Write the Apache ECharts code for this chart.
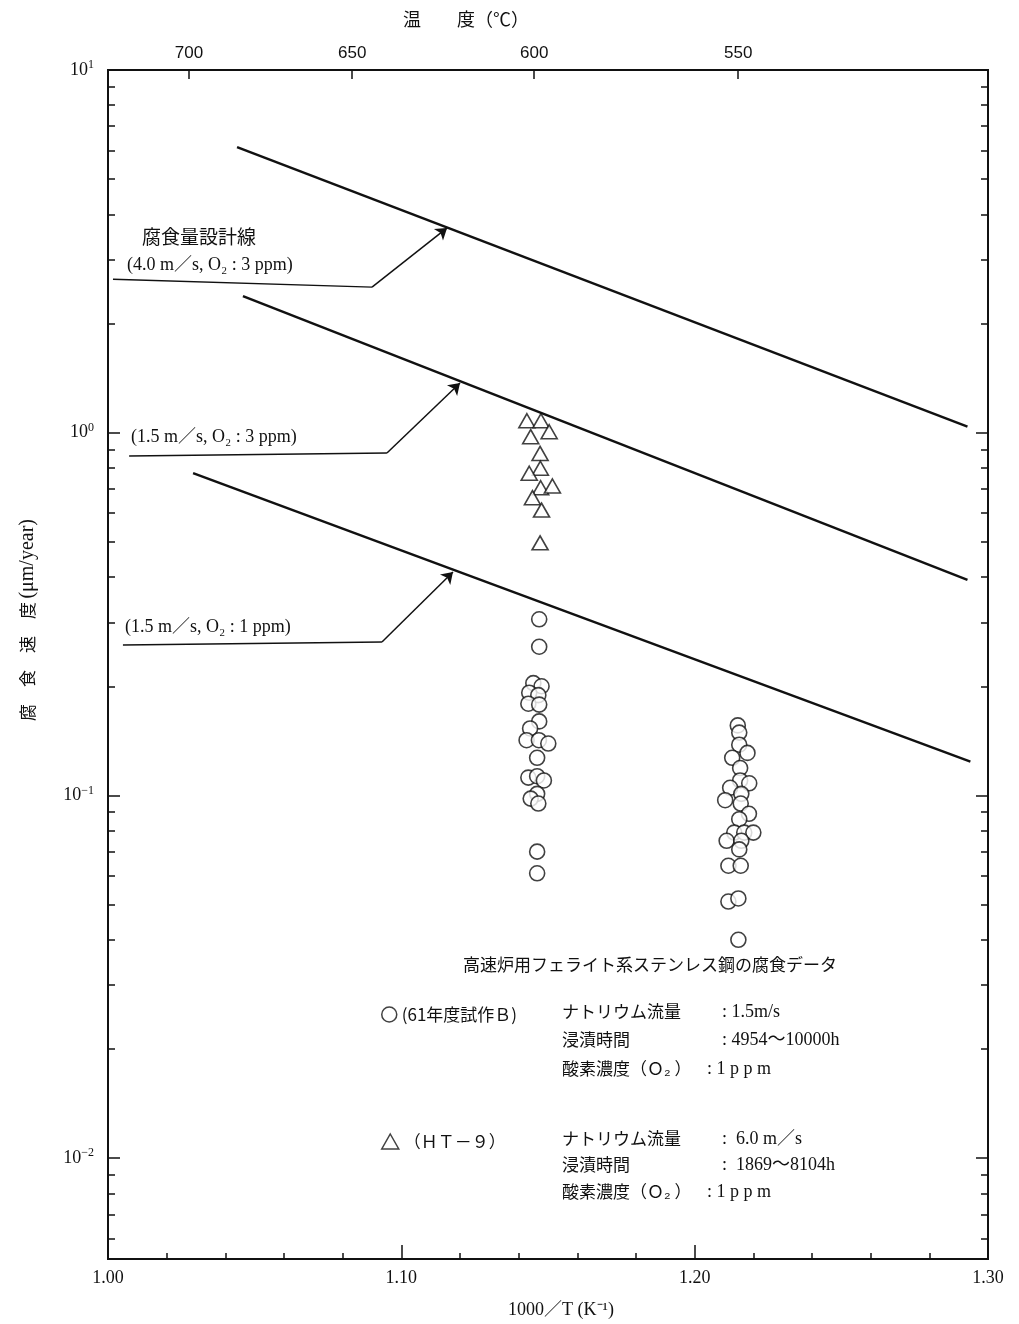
<!DOCTYPE html>
<html>
<head>
<meta charset="utf-8">
<title>高速炉用フェライト系ステンレス鋼の腐食データ</title>
<script src="https://cdn.jsdelivr.net/npm/echarts@6/dist/echarts.min.js"></script>
<style>
  html, body { margin: 0; padding: 0; background: #fff; }
  #chart { width: 1019px; height: 1324px; }
</style>
</head>
<body>
<div id="chart"></div>
<script>
// x: 1000/T (K^-1), y: 腐食速度 (μm/year)
// △ HT-9
var ht9 = [
  [1.1428, 1.079], [1.1476, 1.079], [1.1504, 1.006], [1.1441, 0.975],
  [1.1473, 0.877], [1.1474, 0.798], [1.1436, 0.773], [1.1475, 0.705],
  [1.1515, 0.713], [1.1447, 0.662], [1.1478, 0.612], [1.1473, 0.497]
];
// ○ 61年度試作B  (600℃付近)
var b61a = [
  [1.1470, 0.306], [1.1470, 0.257], [1.1450, 0.204], [1.1478, 0.200],
  [1.1436, 0.192], [1.1467, 0.189], [1.1433, 0.179], [1.1470, 0.178],
  [1.1470, 0.160], [1.1439, 0.153], [1.1427, 0.142], [1.1469, 0.142],
  [1.1501, 0.139], [1.1463, 0.127], [1.1433, 0.112], [1.1463, 0.113],
  [1.1486, 0.110], [1.1463, 0.101], [1.1441, 0.098], [1.1467, 0.095],
  [1.1463, 0.070], [1.1463, 0.061]
];
// ○ 61年度試作B  (550℃付近)
var b61b = [
  [1.2147, 0.156], [1.2152, 0.149], [1.2152, 0.138], [1.2180, 0.131],
  [1.2128, 0.127], [1.2155, 0.119], [1.2155, 0.110], [1.2186, 0.108],
  [1.2121, 0.105], [1.2159, 0.101], [1.2104, 0.097], [1.2157, 0.095],
  [1.2185, 0.089], [1.2152, 0.086], [1.2135, 0.079], [1.2169, 0.079],
  [1.2200, 0.079], [1.2109, 0.075], [1.2159, 0.075], [1.2152, 0.071],
  [1.2115, 0.064], [1.2157, 0.064], [1.2115, 0.051], [1.2149, 0.052],
  [1.2149, 0.040]
];
// 腐食量設計線
var line40o3 = [[1.044, 6.13], [1.293, 1.04]];
var line15o3 = [[1.046, 2.38], [1.293, 0.393]];
var line15o1 = [[1.029, 0.774], [1.294, 0.124]];
// 引出し線 (start, bend, arrow tip)
var lead40o3 = [[1.0017, 2.65], [1.090, 2.52], [1.1156, 3.67]];
var lead15o3 = [[1.0072, 0.863], [1.0951, 0.879], [1.1200, 1.371]];
var lead15o1 = [[1.0051, 0.260], [1.0934, 0.265], [1.1176, 0.413]];

var tempTicks = [700, 650, 600, 550];      // ℃
var decades = [-2, -1, 0, 1];              // 10^n
var yMinLog = -2.278;

var serif = '"Liberation Serif", "Noto Sans CJK JP", serif';
var jp = '"Noto Sans CJK JP", sans-serif';

function lg(p) { return [p[0], Math.log10(p[1])]; }

var minorTicks = [];
decades.concat([-3]).forEach(function (d) {
  for (var k = 2; k <= 9; k++) {
    var v = d + Math.log10(k);
    if (v > yMinLog && v < 1) minorTicks.push(v);
  }
});
var tempPos = tempTicks.map(function (t) { return 1000 / (t + 273.15); });

function supLabel(v) {
  var e = v < 0 ? '−' + (-v) : String(v);
  return '{b|10}{s|' + e + '}';
}

function leader(pts) {
  var a = lg(pts[0]), b = lg(pts[1]), c = lg(pts[2]);
  return [
    [{ coord: a, symbol: 'none' }, { coord: b, symbol: 'none' }],
    [{ coord: b, symbol: 'none' }, { coord: c, symbol: 'arrow' }]
  ];
}

function designLine(data, lead) {
  return {
    type: 'line',
    data: data.map(lg),
    showSymbol: false,
    silent: true,
    lineStyle: { color: '#111', width: 2.5 },
    markLine: {
      silent: true,
      symbolSize: 11,
      label: { show: false },
      lineStyle: { color: '#111', width: 1.5, type: 'solid' },
      data: leader(lead)
    }
  };
}

var yBase = {
  type: 'value', min: yMinLog, max: 1,
  splitLine: { show: false },
  axisLine: { show: true, onZero: false, lineStyle: { color: '#111', width: 2 } }
};

var chart = echarts.init(document.getElementById('chart'));
chart.setOption({
  animation: false,
  backgroundColor: '#fff',
  grid: { left: 108, top: 70, width: 880, height: 1189 },
  xAxis: [
    {
      type: 'value', position: 'bottom', min: 1, max: 1.3, interval: 0.1,
      splitLine: { show: false },
      axisLine: { onZero: false, lineStyle: { color: '#111', width: 2 } },
      axisTick: { inside: true, length: 14, lineStyle: { color: '#111', width: 1.5 } },
      minorTick: { show: true, splitNumber: 5, length: 6, lineStyle: { color: '#111', width: 1.5 } },
      axisLabel: {
        margin: 10, color: '#111', fontFamily: serif, fontSize: 18,
        formatter: function (v) { return v.toFixed(2); }
      }
    },
    {
      type: 'value', position: 'top', min: 1, max: 1.3,
      splitLine: { show: false },
      axisLine: { onZero: false, lineStyle: { color: '#111', width: 2 } },
      axisTick: { inside: true, length: 9, customValues: tempPos, lineStyle: { color: '#111', width: 1.5 } },
      axisLabel: {
        customValues: tempPos, margin: 8, color: '#111',
        fontFamily: '"Liberation Sans", sans-serif', fontSize: 17,
        formatter: function (v) { return Math.round(1000 / v - 273.15); }
      }
    }
  ],
  yAxis: [
    Object.assign({}, yBase, {
      position: 'left',
      axisTick: { inside: true, length: 12, customValues: decades, lineStyle: { color: '#111', width: 1.5 } },
      axisLabel: {
        customValues: decades, margin: 14, color: '#111', formatter: supLabel,
        rich: {
          b: { fontFamily: serif, fontSize: 18, lineHeight: 22, color: '#111' },
          s: { fontFamily: serif, fontSize: 12, lineHeight: 12, verticalAlign: 'top', color: '#111' }
        }
      }
    }),
    Object.assign({}, yBase, {
      position: 'left',
      axisTick: { inside: true, length: 7, customValues: minorTicks, lineStyle: { color: '#111', width: 1.5 } },
      axisLabel: { show: false }
    }),
    Object.assign({}, yBase, {
      position: 'right',
      axisTick: { inside: true, length: 12, customValues: decades, lineStyle: { color: '#111', width: 1.5 } },
      axisLabel: { show: false }
    }),
    Object.assign({}, yBase, {
      position: 'right',
      axisTick: { inside: true, length: 7, customValues: minorTicks, lineStyle: { color: '#111', width: 1.5 } },
      axisLabel: { show: false }
    })
  ],
  legend: [
    {
      data: ['(61年度試作Ｂ)'], left: 376, top: 1001, selectedMode: false,
      itemWidth: 15, itemHeight: 15, itemGap: 6,
      itemStyle: { color: '#fff', borderColor: '#111', borderWidth: 1.5 },
      textStyle: { fontFamily: jp, fontSize: 17, color: '#111' }
    },
    {
      data: ['（ＨＴ－９）'], left: 376, top: 1128, selectedMode: false,
      itemWidth: 17, itemHeight: 15, itemGap: 6,
      itemStyle: { color: '#fff', borderColor: '#111', borderWidth: 1.5 },
      textStyle: { fontFamily: jp, fontSize: 17, color: '#111' }
    }
  ],
  series: [
    designLine(line40o3, lead40o3),
    designLine(line15o3, lead15o3),
    designLine(line15o1, lead15o1),
    {
      name: '（ＨＴ－９）', type: 'scatter', symbol: 'triangle', symbolSize: [16, 14],
      data: ht9.map(lg),
      itemStyle: { color: '#fff', borderColor: '#111', borderWidth: 1.6 }
    },
    {
      name: '(61年度試作Ｂ)', type: 'scatter', symbol: 'circle', symbolSize: 15,
      data: b61a.map(lg).concat(b61b.map(lg)),
      itemStyle: { color: '#fff', borderColor: '#111', borderWidth: 1.6 }
    }
  ],
  graphic: [
    { type: 'text', x: 403, y: 19, style: { text: '温　　度（℃）', font: '18px ' + jp, fill: '#111', verticalAlign: 'middle' } },
    { type: 'text', x: 561, y: 1310, style: { text: '1000／T (K⁻¹)', font: '18px ' + serif, fill: '#111', align: 'center', verticalAlign: 'middle' } },
    {
      type: 'text', x: 28, y: 620, rotation: Math.PI / 2,
      style: {
        text: '{c|腐　食　速　度} {s|(μm/year)}', align: 'center', verticalAlign: 'middle',
        rich: { c: { fontFamily: jp, fontSize: 17, fill: '#111' }, s: { fontFamily: serif, fontSize: 20, fill: '#111' } }
      }
    },
    { type: 'text', x: 142, y: 237, style: { text: '腐食量設計線', font: '19px ' + jp, fill: '#111', verticalAlign: 'middle' } },
    { type: 'text', x: 127, y: 265, style: { text: '(4.0 m／s, O₂ : 3 ppm)', font: '18px ' + serif, fill: '#111', verticalAlign: 'middle' } },
    { type: 'text', x: 131, y: 437, style: { text: '(1.5 m／s, O₂ : 3 ppm)', font: '18px ' + serif, fill: '#111', verticalAlign: 'middle' } },
    { type: 'text', x: 125, y: 627, style: { text: '(1.5 m／s, O₂ : 1 ppm)', font: '18px ' + serif, fill: '#111', verticalAlign: 'middle' } },
    { type: 'text', x: 463, y: 965, style: { text: '高速炉用フェライト系ステンレス鋼の腐食データ', font: '17px ' + jp, fill: '#111', verticalAlign: 'middle' } },
    { type: 'text', x: 562, y: 1012, style: { text: 'ナトリウム流量', font: '17px ' + jp, fill: '#111', verticalAlign: 'middle' } },
    { type: 'text', x: 722, y: 1012, style: { text: ': 1.5m/s', font: '18px ' + serif, fill: '#111', verticalAlign: 'middle' } },
    { type: 'text', x: 562, y: 1040, style: { text: '浸漬時間', font: '17px ' + jp, fill: '#111', verticalAlign: 'middle' } },
    { type: 'text', x: 722, y: 1040, style: { text: ': 4954～10000h', font: '18px ' + serif, fill: '#111', verticalAlign: 'middle' } },
    { type: 'text', x: 562, y: 1069, style: { text: '酸素濃度（Ｏ₂ ）', font: '17px ' + jp, fill: '#111', verticalAlign: 'middle' } },
    { type: 'text', x: 707, y: 1069, style: { text: ': 1 p p m', font: '18px ' + serif, fill: '#111', verticalAlign: 'middle' } },
    { type: 'text', x: 562, y: 1139, style: { text: 'ナトリウム流量', font: '17px ' + jp, fill: '#111', verticalAlign: 'middle' } },
    { type: 'text', x: 722, y: 1139, style: { text: ':  6.0 m／s', font: '18px ' + serif, fill: '#111', verticalAlign: 'middle' } },
    { type: 'text', x: 562, y: 1165, style: { text: '浸漬時間', font: '17px ' + jp, fill: '#111', verticalAlign: 'middle' } },
    { type: 'text', x: 722, y: 1165, style: { text: ':  1869～8104h', font: '18px ' + serif, fill: '#111', verticalAlign: 'middle' } },
    { type: 'text', x: 562, y: 1192, style: { text: '酸素濃度（Ｏ₂ ）', font: '17px ' + jp, fill: '#111', verticalAlign: 'middle' } },
    { type: 'text', x: 707, y: 1192, style: { text: ': 1 p p m', font: '18px ' + serif, fill: '#111', verticalAlign: 'middle' } }
  ]
});
</script>
</body>
</html>
